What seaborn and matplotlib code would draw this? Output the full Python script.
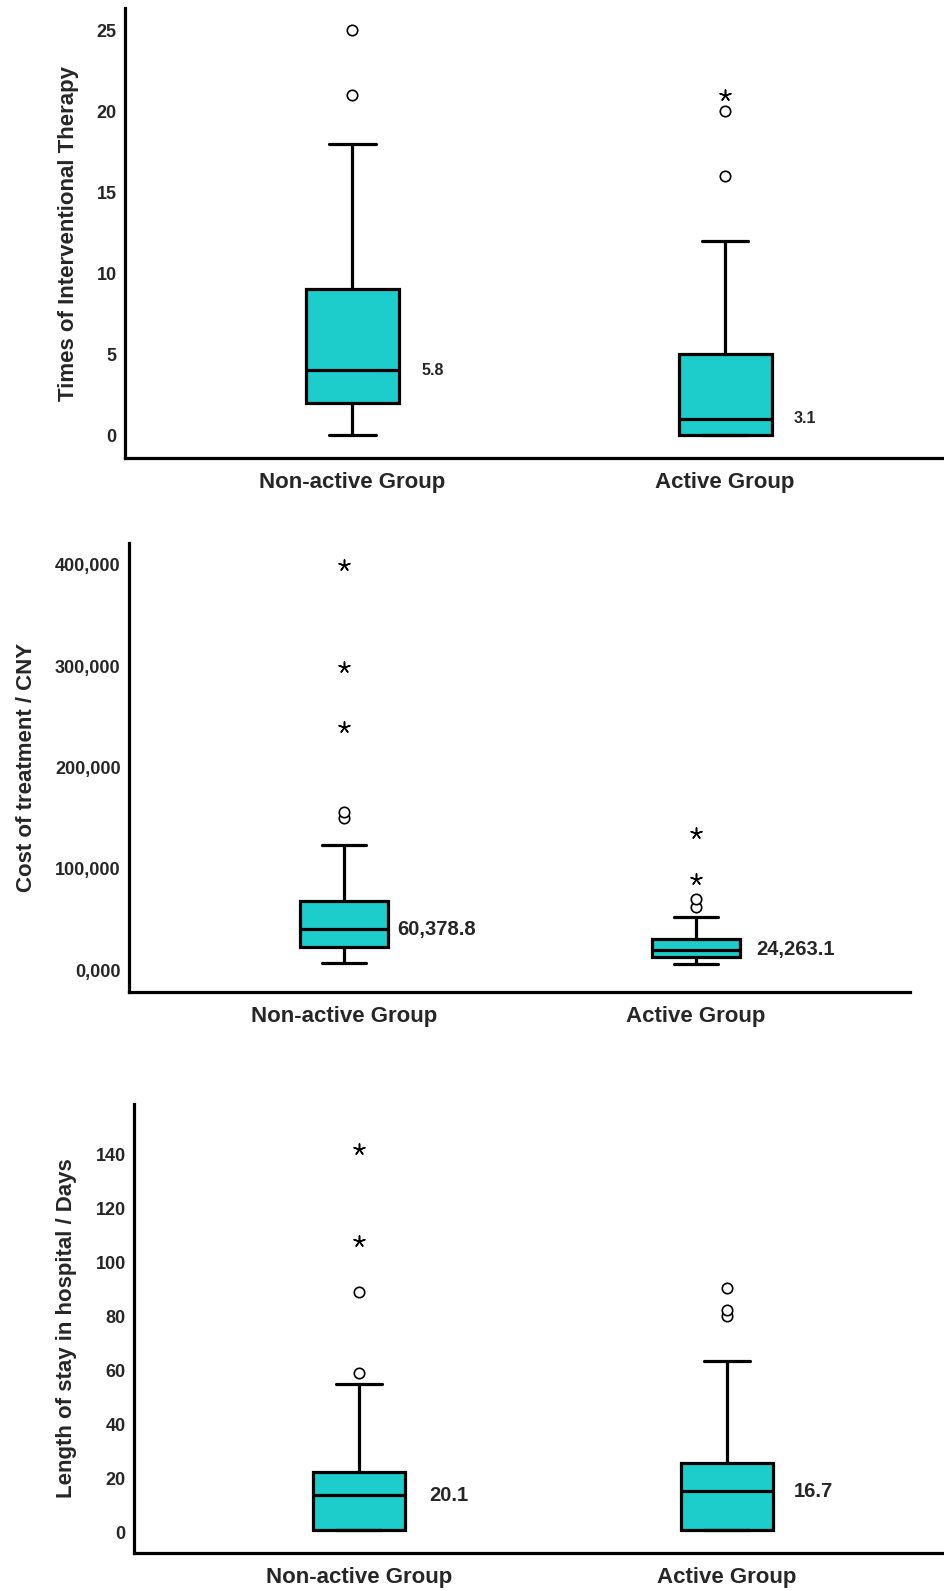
import numpy as np
import pandas as pd
import matplotlib.pyplot as plt
import seaborn as sns

# Three boxplots: interventional therapy, cost, length of stay

groups = ["Non-active Group", "Active Group"]

# five-number summaries: [low whisker, Q1, median, Q3, high whisker]
therapy_nonactive = [0, 2, 4, 9, 18]
therapy_active = [0, 0, 1, 5, 12]
therapy_circle_groups = ["Non-active Group", "Non-active Group", "Active Group", "Active Group"]
therapy_circle_vals = [21, 25, 16, 20]
therapy_star_groups = ["Active Group"]
therapy_star_vals = [21]
therapy_means = ["5.8", "3.1"]
therapy_ticks = [0, 5, 10, 15, 20, 25]
therapy_ticklabels = ["0", "5", "10", "15", "20", "25"]

cost_nonactive = [7000, 22700, 40500, 68000, 123000]
cost_active = [6000, 13000, 20000, 31000, 52000]
cost_circle_groups = ["Non-active Group", "Non-active Group", "Active Group", "Active Group"]
cost_circle_vals = [150000, 156000, 62000, 70000]
cost_star_groups = ["Non-active Group", "Non-active Group", "Non-active Group", "Active Group", "Active Group"]
cost_star_vals = [240000, 299000, 400000, 90000, 135000]
cost_means = ["60,378.8", "24,263.1"]
cost_ticks = [0, 100000, 200000, 300000, 400000]
cost_ticklabels = ["0,000", "100,000", "200,000", "300,000", "400,000"]

stay_nonactive = [1, 1, 14, 22.5, 55]
stay_active = [1, 1, 15.5, 26, 63.5]
stay_circle_groups = ["Non-active Group", "Non-active Group", "Active Group", "Active Group", "Active Group"]
stay_circle_vals = [59, 89, 80, 82.5, 90.5]
stay_star_groups = ["Non-active Group", "Non-active Group"]
stay_star_vals = [108, 142]
stay_means = ["20.1", "16.7"]
stay_ticks = [0, 20, 40, 60, 80, 100, 120, 140]
stay_ticklabels = ["0", "20", "40", "60", "80", "100", "120", "140"]

sns.set_style("white")
plt.rcParams["font.family"] = ["Liberation Sans", "DejaVu Sans"]
plt.rcParams["font.weight"] = "bold"

teal = "#1ccdcb"


def draw_panel(ax, box_a, box_b, circ_g, circ_v, star_g, star_v, means,
               ticks, ticklabels, ylabel, ylim, xlim, mean_size, mean_dx):
    df = pd.DataFrame({"group": np.repeat(groups, 5), "value": box_a + box_b})
    sns.boxplot(data=df, x="group", y="value", order=groups, width=0.25,
                whis=(0, 100), showfliers=False, color=teal, saturation=1,
                linecolor="black", linewidth=2.3, ax=ax)

    circ = pd.DataFrame({"group": circ_g, "value": circ_v})
    sns.stripplot(data=circ, x="group", y="value", order=groups, jitter=False,
                  marker="o", color="white", edgecolor="black", linewidth=1.2,
                  size=7.5, ax=ax, zorder=5)
    stars = pd.DataFrame({"group": star_g, "value": star_v})
    sns.stripplot(data=stars, x="group", y="value", order=groups, jitter=False,
                  marker=(5, 2, 0), color="black", edgecolor="black",
                  linewidth=1.1, size=8, ax=ax, zorder=5)

    # mean value written next to each box, at the median level
    medians = [box_a[2], box_b[2]]
    for i, txt in enumerate(means):
        ax.text(i + mean_dx[i], medians[i], txt, ha="left", va="center",
                fontsize=mean_size, fontweight="bold")

    ax.set_xlim(*xlim)
    ax.set_ylim(*ylim)
    ax.set_yticks(ticks)
    ax.set_yticklabels(ticklabels)
    ax.set_xlabel("")
    ax.set_ylabel(ylabel, fontsize=16, fontweight="bold", labelpad=13)
    ax.tick_params(axis="y", length=0, pad=6, labelsize=13)
    ax.tick_params(axis="x", length=0, pad=10, labelsize=16)
    for lab in ax.get_xticklabels() + ax.get_yticklabels():
        lab.set_fontweight("bold")
    sns.despine(ax=ax)
    for side in ["left", "bottom"]:
        ax.spines[side].set_linewidth(2.3)
        ax.spines[side].set_color("black")


fig = plt.figure(figsize=(9.45, 15.91), dpi=100)
ax1 = fig.add_axes([0.1323, 0.7121, 0.8677, 0.2828])
ax2 = fig.add_axes([0.1365, 0.3765, 0.8265, 0.2822])
ax3 = fig.add_axes([0.1418, 0.0239, 0.8582, 0.2822])

draw_panel(ax1, therapy_nonactive, therapy_active, therapy_circle_groups,
           therapy_circle_vals, therapy_star_groups, therapy_star_vals,
           therapy_means, therapy_ticks, therapy_ticklabels,
           "Times of Interventional Therapy", (-1.42, 26.36), (-0.61, 1.59),
           11.5, [0.185, 0.185])
draw_panel(ax2, cost_nonactive, cost_active, cost_circle_groups,
           cost_circle_vals, cost_star_groups, cost_star_vals,
           cost_means, cost_ticks, cost_ticklabels,
           "Cost of treatment / CNY", (-21700, 421700), (-0.611, 1.608),
           14.5, [0.15, 0.17])
draw_panel(ax3, stay_nonactive, stay_active, stay_circle_groups,
           stay_circle_vals, stay_star_groups, stay_star_vals,
           stay_means, stay_ticks, stay_ticklabels,
           "Length of stay in hospital / Days", (-7.4, 158.5), (-0.611, 1.592),
           14.5, [0.19, 0.18])

plt.savefig("out.png", dpi=100)
print("saved out.png")
